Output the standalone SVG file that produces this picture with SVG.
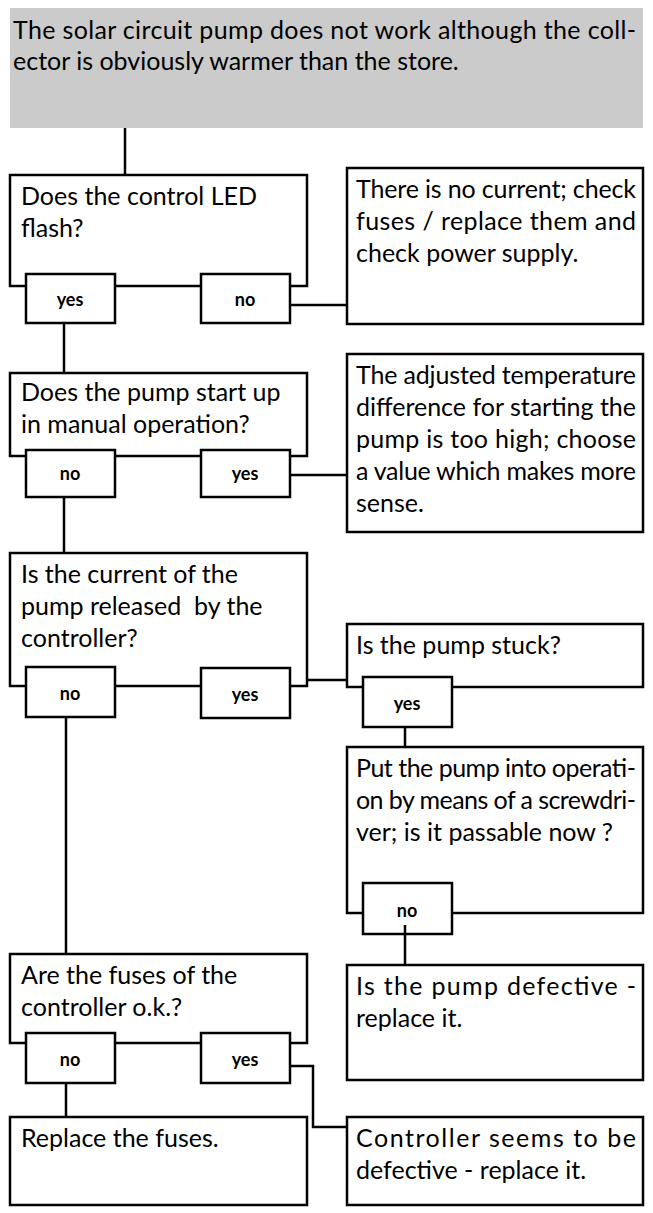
<svg xmlns="http://www.w3.org/2000/svg" width="653" height="1213" viewBox="0 0 653 1213">
<style>
.box{fill:#fff;stroke:#000;stroke-width:2.5}
.lbl{fill:#fff;stroke:#000;stroke-width:2.5}
.t{font-family:Lato,"Liberation Sans",sans-serif;font-size:25px;fill:#000}
.b{font-family:Lato,"Liberation Sans",sans-serif;font-size:18px;font-weight:bold;fill:#000;text-anchor:middle}
.c{fill:none;stroke:#000;stroke-width:2.5}
</style>
<g id="start">
<rect x="10" y="8" width="633" height="120" fill="#cbcbcb"/>
<text class="t" x="13" y="39" textLength="623" lengthAdjust="spacing">The solar circuit pump does not work although the coll-</text>
<text class="t" x="13" y="70">ector is obviously warmer than the store.</text>
</g>
<g id="connectors">
<path class="c" d="M125 128V175"/>
<path class="c" d="M290 305H347"/>
<path class="c" d="M64 323V373"/>
<path class="c" d="M290 475H347"/>
<path class="c" d="M64 497V553"/>
<path class="c" d="M290 680H347"/>
<path class="c" d="M405 727V747"/>
<path class="c" d="M66 718V954"/>
<path class="c" d="M66 1083V1117"/>
<path class="c" d="M290 1066H313V1127H347"/>
</g>
<g id="q1">
<rect class="box" x="10" y="175" width="297" height="111"/>
<text class="t" x="21" y="205">Does the control LED</text>
<text class="t" x="21" y="237">flash?</text>
<rect class="lbl" x="26" y="274" width="89" height="49"/>
<text class="b" x="70" y="306">yes</text>
<rect class="lbl" x="201" y="274" width="89" height="49"/>
<text class="b" x="245" y="306">no</text>
</g>
<g id="a1">
<rect class="box" x="347" y="168" width="296" height="156"/>
<text class="t" x="356" y="198" textLength="280" lengthAdjust="spacing">There is no current; check</text>
<text class="t" x="356" y="230" textLength="280" lengthAdjust="spacing">fuses / replace them and</text>
<text class="t" x="356" y="262">check power supply.</text>
</g>
<g id="q2">
<rect class="box" x="10" y="373" width="297" height="83"/>
<text class="t" x="21" y="401">Does the pump start up</text>
<text class="t" x="21" y="433">in manual operation?</text>
<rect class="lbl" x="26" y="450" width="89" height="47"/>
<text class="b" x="70" y="480">no</text>
<rect class="lbl" x="201" y="450" width="89" height="47"/>
<text class="b" x="245" y="480">yes</text>
</g>
<g id="a2">
<rect class="box" x="347" y="354" width="296" height="178"/>
<text class="t" x="356" y="384" textLength="280" lengthAdjust="spacing">The adjusted temperature</text>
<text class="t" x="356" y="416" textLength="280" lengthAdjust="spacing">difference for starting the</text>
<text class="t" x="356" y="448" textLength="280" lengthAdjust="spacing">pump is too high; choose</text>
<text class="t" x="356" y="480" textLength="280" lengthAdjust="spacing">a value which makes more</text>
<text class="t" x="356" y="512">sense.</text>
</g>
<g id="q3">
<rect class="box" x="10" y="553" width="297" height="133"/>
<text class="t" x="21" y="583">Is the current of the</text>
<text class="t" x="21" y="615" xml:space="preserve">pump released  by the</text>
<text class="t" x="21" y="647">controller?</text>
<rect class="lbl" x="26" y="667" width="89" height="50"/>
<text class="b" x="70" y="700">no</text>
<rect class="lbl" x="201" y="668" width="89" height="50"/>
<text class="b" x="245" y="701">yes</text>
</g>
<g id="a3">
<rect class="box" x="347" y="624" width="296" height="63"/>
<text class="t" x="356" y="654">Is the pump stuck?</text>
<rect class="lbl" x="363" y="677" width="89" height="50"/>
<text class="b" x="407" y="710">yes</text>
</g>
<g id="q5">
<rect class="box" x="347" y="747" width="296" height="166"/>
<text class="t" x="356" y="777" textLength="280" lengthAdjust="spacing">Put the pump into operati-</text>
<text class="t" x="356" y="809" textLength="280" lengthAdjust="spacing">on by means of a screwdri-</text>
<text class="t" x="356" y="841">ver; is it passable now ?</text>
<rect class="lbl" x="363" y="883" width="89" height="51"/>
<text class="b" x="407" y="917">no</text>
<path class="c" d="M405 925V965"/>
</g>
<g id="a5">
<rect class="box" x="347" y="965" width="296" height="115"/>
<text class="t" x="356" y="995" textLength="280" lengthAdjust="spacing">Is the pump defective -</text>
<text class="t" x="356" y="1027">replace it.</text>
</g>
<g id="q4">
<rect class="box" x="10" y="954" width="297" height="89"/>
<text class="t" x="21" y="984">Are the fuses of the</text>
<text class="t" x="21" y="1016">controller o.k.?</text>
<rect class="lbl" x="26" y="1033" width="89" height="50"/>
<text class="b" x="70" y="1066">no</text>
<rect class="lbl" x="201" y="1033" width="89" height="50"/>
<text class="b" x="245" y="1066">yes</text>
</g>
<g id="a4">
<rect class="box" x="10" y="1117" width="297" height="88"/>
<text class="t" x="21" y="1147">Replace the fuses.</text>
</g>
<g id="a6">
<rect class="box" x="347" y="1117" width="296" height="88"/>
<text class="t" x="356" y="1147" textLength="280" lengthAdjust="spacing">Controller seems to be</text>
<text class="t" x="356" y="1179">defective - replace it.</text>
</g>
</svg>
